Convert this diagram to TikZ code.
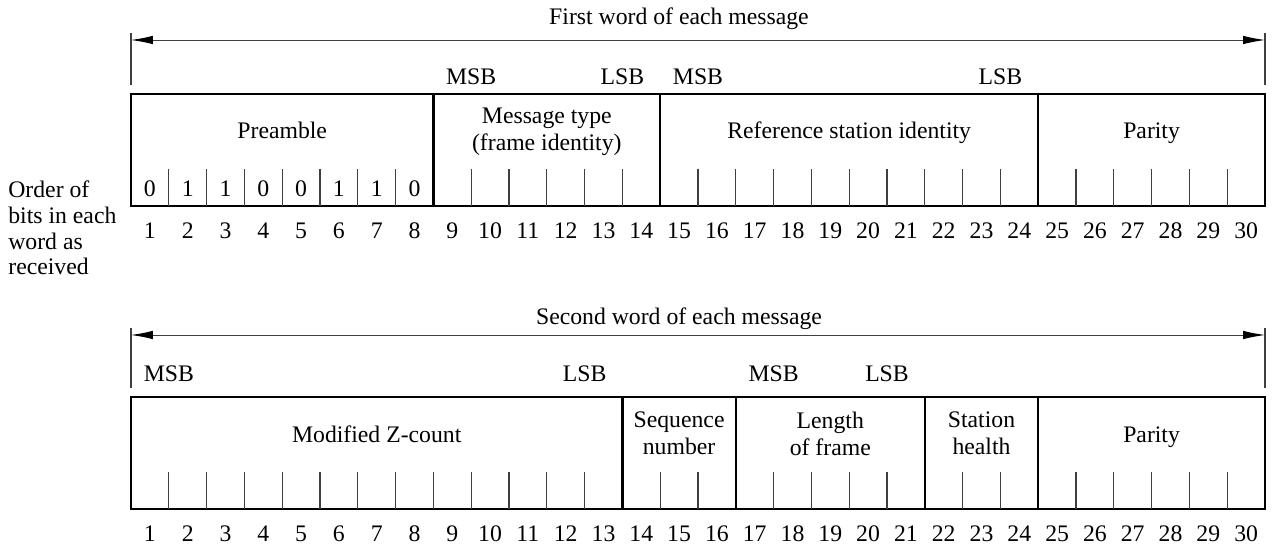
\documentclass[tikz,border=0pt]{standalone}
\usepackage{fontspec}
\setmainfont{Liberation Serif}
\usepackage{tikz}
\usetikzlibrary{arrows.meta}

\newcommand{\bitw}{37.8}

\begin{document}
\begin{tikzpicture}[x=0.02cm,y=-0.02cm,
	font=\fontsize{13.5}{15.5}\selectfont,
	outline/.style={line width=0.9pt},
	divider/.style={line width=1.3pt},
	bittick/.style={line width=0.6pt,black!75},
	wordspan/.style={{Latex[length=0.44cm,width=0.17cm,color=black]}-{Latex[length=0.44cm,width=0.17cm,color=black]},line width=0.5pt,black!75},
	field/.style={align=center,inner sep=0pt,font=\fontsize{13.5}{15.3}\selectfont},
	txt/.style={anchor=base,inner sep=0pt}]
	\useasboundingbox (0,0) rectangle (1272,550);
	%
	% side note
	\node[anchor=west,align=left,inner sep=0pt,font=\fontsize{13.5}{14.7}\selectfont] (order) at (8,228) {Order of\\bits in each\\word as\\received};
	%
	% first word
	\node[txt] (title1) at (679,25) {First word of each message};
	\coordinate (s1L) at (131,40);
	\coordinate (s1R) at (1265,40);
	\coordinate (s1Lt) at (131,33);
	\coordinate (s1Lb) at (131,85);
	\coordinate (s1Rt) at (1265,33);
	\coordinate (s1Rb) at (1265,85);
	\draw[bittick] (s1Lt) -- (s1Lb);
	\draw[bittick] (s1Rt) -- (s1Rb);
	\draw[wordspan] (s1L) -- (s1R);
	%
	\draw[outline] (131,94) rectangle (1265,206);
	\foreach \k in {1,...,29}{
		\ifnum\k=8\else\ifnum\k=14\else\ifnum\k=24\else
			\draw[bittick] ({131+\k*\bitw},169) -- ({131+\k*\bitw},206);
		\fi\fi\fi
	}
	\foreach \k in {8,14,24}
		\draw[divider] ({131+\k*\bitw},94) -- ({131+\k*\bitw},206);
	%
	\foreach \name/\a/\b/\txt in {pre/0/8/Preamble, ref/14/24/Reference station identity, par/24/30/Parity}
		\node[txt] (w1-\name) at ({131+(\a+\b)/2*\bitw},139) {\txt};
	\node[field] (w1-type) at ({131+11*\bitw},132) {Message type\\(frame identity)};
	%
	\foreach \v [count=\i] in {0,1,1,0,0,1,1,0}
		\node[txt] (v\i) at ({131+(\i-0.5)*\bitw},197) {\v};
	%
	\foreach \name/\k/\txt in {m1/9/MSB, l1/13/LSB, m2/15/MSB, l2/23/LSB}
		\node[txt] (w1-\name) at ({131+\k*\bitw},85) {\txt};
	%
	\foreach \i in {1,...,30}
		\node[txt] (n1-\i) at ({131+(\i-0.5)*\bitw},239) {\i};
	%
	% second word
	\node[txt] (title2) at (679,325) {Second word of each message};
	\coordinate (s2L) at (131,335);
	\coordinate (s2R) at (1265,335);
	\coordinate (s2Lt) at (131,328);
	\coordinate (s2Lb) at (131,388);
	\coordinate (s2Rt) at (1265,328);
	\coordinate (s2Rb) at (1265,388);
	\draw[bittick] (s2Lt) -- (s2Lb);
	\draw[bittick] (s2Rt) -- (s2Rb);
	\draw[wordspan] (s2L) -- (s2R);
	%
	\draw[outline] (131,397) rectangle (1265,509);
	\foreach \k in {1,...,29}{
		\ifnum\k=13\else\ifnum\k=16\else\ifnum\k=21\else\ifnum\k=24\else
			\draw[bittick] ({131+\k*\bitw},472) -- ({131+\k*\bitw},509);
		\fi\fi\fi\fi
	}
	\foreach \k in {13,16,21,24}
		\draw[divider] ({131+\k*\bitw},397) -- ({131+\k*\bitw},509);
	%
	\foreach \name/\a/\b/\txt in {zc/0/13/Modified Z-count, par/24/30/Parity}
		\node[txt] (w2-\name) at ({131+(\a+\b)/2*\bitw},443) {\txt};
	\foreach \name/\a/\b/\txt in {seq/13/16/{Sequence\\number}, len/16/21/{Length\\of frame}, hlth/21/24/{Station\\health}}
		\node[field] (w2-\name) at ({131+(\a+\b)/2*\bitw},433.5) {\txt};
	%
	\foreach \name/\k/\txt in {m1/1/MSB, l1/12/LSB, m2/17/MSB, l2/20/LSB}
		\node[txt] (w2-\name) at ({131+\k*\bitw},382) {\txt};
	%
	\foreach \i in {1,...,30}
		\node[txt] (n2-\i) at ({131+(\i-0.5)*\bitw},541) {\i};
\end{tikzpicture}
\end{document}
